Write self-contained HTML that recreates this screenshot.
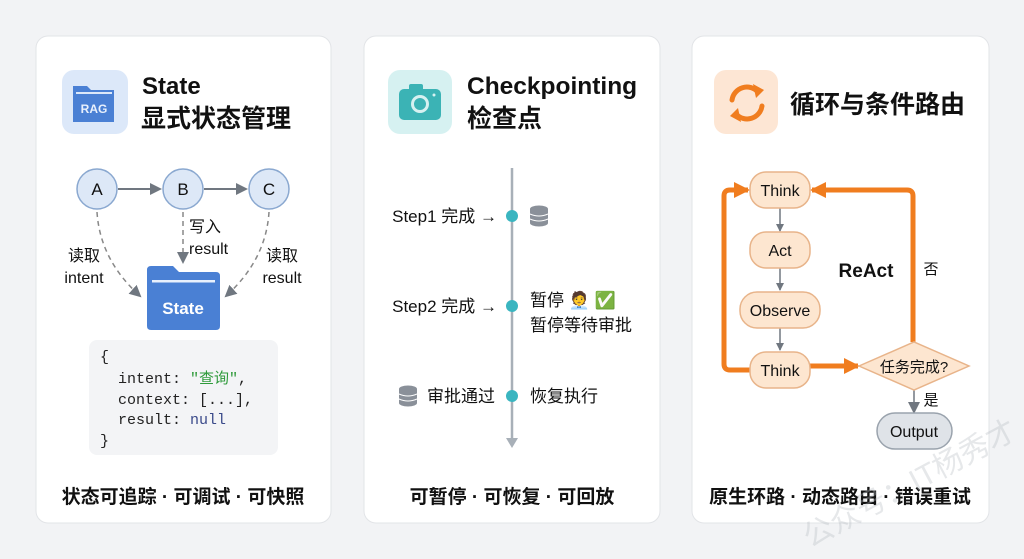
<!DOCTYPE html>
<html><head><meta charset="utf-8"><style>
html,body{margin:0;padding:0;background:#f2f3f5;}
svg{display:block;font-family:"Liberation Sans","Noto Sans CJK SC",sans-serif;}
</style></head><body>
<svg width="1024" height="559" viewBox="0 0 1024 559" xmlns="http://www.w3.org/2000/svg">
<defs>
<marker id="ag" markerWidth="8" markerHeight="8" refX="7" refY="4" orient="auto" markerUnits="userSpaceOnUse"><path d="M0,0 L8,4 L0,8 z" fill="#707780"/></marker>
<marker id="ag2" markerWidth="12" markerHeight="12" refX="10" refY="6" orient="auto" markerUnits="userSpaceOnUse"><path d="M0,0 L12,6 L0,12 z" fill="#707780"/></marker>
<marker id="ao" markerWidth="16" markerHeight="16" refX="14" refY="8" orient="auto" markerUnits="userSpaceOnUse"><path d="M0,0 L16,8 L0,16 z" fill="#f07d1f"/></marker>
</defs>
<rect x="0" y="0" width="1024" height="559" fill="#f2f3f5"/>
<rect x="36" y="36" width="295" height="487" rx="12" fill="#fff" stroke="#e2e4e7"/>
<rect x="364" y="36" width="296" height="487" rx="12" fill="#fff" stroke="#e2e4e7"/>
<rect x="692" y="36" width="297" height="487" rx="12" fill="#fff" stroke="#e2e4e7"/>

<!-- Card 1 -->
<rect x="62" y="70" width="66" height="64" rx="12" fill="#dce8f9"/>
<path d="M73 86 h14 l4 4 h23 v32 h-41 z" fill="#4a80d4"/>
<rect x="76" y="92" width="36" height="2" fill="#dce8f9"/>
<text x="94" y="113" text-anchor="middle" font-size="12" font-weight="bold" fill="#e8f0fc">RAG</text>
<text x="142" y="94" font-size="24" font-weight="bold" fill="#111">State</text>
<text x="141" y="127" font-size="25" font-weight="bold" fill="#111">显式状态管理</text>

<line x1="118" y1="189" x2="160" y2="189" stroke="#707780" stroke-width="2" marker-end="url(#ag2)"/>
<line x1="204" y1="189" x2="246" y2="189" stroke="#707780" stroke-width="2" marker-end="url(#ag2)"/>
<g fill="#dde8f7" stroke="#8aa8d0" stroke-width="1.5">
<circle cx="97" cy="189" r="20"/><circle cx="183" cy="189" r="20"/><circle cx="269" cy="189" r="20"/></g>
<g font-size="17" text-anchor="middle" fill="#111"><text x="97" y="195">A</text><text x="183" y="195">B</text><text x="269" y="195">C</text></g>
<g fill="none" stroke="#888" stroke-width="1.5" stroke-dasharray="5,4">
<path d="M97 212 Q100 260 140 296" marker-end="url(#ag2)"/>
<path d="M183 212 L183 262" marker-end="url(#ag2)"/>
<path d="M269 212 Q266 260 226 296" marker-end="url(#ag2)"/>
</g>
<g font-size="16" fill="#111">
<text x="84" y="261" text-anchor="middle">读取</text><text x="84" y="283" text-anchor="middle">intent</text>
<text x="189" y="232">写入</text><text x="189" y="254">result</text>
<text x="282" y="261" text-anchor="middle">读取</text><text x="282" y="283" text-anchor="middle">result</text>
</g>
<path d="M147 270 q0-4 4-4 h22 l6 6 h37 q4 0 4 4 v50 q0 4-4 4 h-65 q-4 0-4-4 z" fill="#4a80d4"/>
<rect x="152" y="280" width="63" height="2.5" fill="#e8f0fc"/>
<text x="183" y="314" text-anchor="middle" font-size="17" font-weight="bold" fill="#fff">State</text>

<rect x="89" y="340" width="189" height="115" rx="8" fill="#f3f4f6"/>
<g font-family="'Liberation Mono','Noto Sans CJK SC',monospace" font-size="15" fill="#222">
<text x="100" y="361">{</text>
<text x="118" y="383">intent: <tspan fill="#2e9a3a">"查询"</tspan>,</text>
<text x="118" y="404">context: [...],</text>
<text x="118" y="424">result: <tspan fill="#3a4a8a">null</tspan></text>
<text x="100" y="445">}</text>
</g>
<text x="183" y="503" text-anchor="middle" font-size="19" font-weight="bold" fill="#111">状态可追踪 · 可调试 · 可快照</text>

<!-- Card 2 -->
<rect x="388" y="70" width="64" height="64" rx="12" fill="#d6f1f1"/>
<rect x="399" y="89" width="42" height="31" rx="5" fill="#3bb3b5"/>
<rect x="409" y="84" width="14" height="7" rx="2" fill="#3bb3b5"/>
<circle cx="420" cy="104" r="9" fill="#d6f1f1"/><circle cx="420" cy="104" r="6" fill="#3bb3b5"/>
<circle cx="434" cy="95" r="1.5" fill="#d6f1f1"/>
<text x="467" y="94" font-size="24.5" font-weight="bold" fill="#111">Checkpointing</text>
<text x="467" y="127" font-size="25" font-weight="bold" fill="#111">检查点</text>

<line x1="512" y1="168" x2="512" y2="440" stroke="#a8b0b8" stroke-width="2.5"/>
<path d="M506 438 L518 438 L512 448 z" fill="#a8b0b8"/>
<g fill="#3ab5c0"><circle cx="512" cy="216" r="6"/><circle cx="512" cy="306" r="6"/><circle cx="512" cy="396" r="6"/></g>
<g font-size="17" fill="#111">
<text x="497" y="222" text-anchor="end">Step1 完成 →</text>
<text x="497" y="312" text-anchor="end">Step2 完成 →</text>
<text x="495" y="402" text-anchor="end">审批通过</text>
<text x="530" y="306">暂停 🧑‍💼 ✅</text>
<text x="530" y="331">暂停等待审批</text>
<text x="530" y="402">恢复执行</text>
</g>
<g fill="#8a9099">
<ellipse cx="539" cy="209" rx="9" ry="3.5"/><rect x="530" y="209" width="18" height="14"/><ellipse cx="539" cy="223" rx="9" ry="3.5"/>
<ellipse cx="408" cy="389" rx="9" ry="3.5"/><rect x="399" y="389" width="18" height="14"/><ellipse cx="408" cy="403" rx="9" ry="3.5"/>
</g>
<g stroke="#fff" stroke-width="1" fill="none"><path d="M530 214 q9 4 18 0 M530 219 q9 4 18 0 M399 394 q9 4 18 0 M399 399 q9 4 18 0"/></g>
<text x="512" y="503" text-anchor="middle" font-size="19" font-weight="bold" fill="#111">可暂停 · 可恢复 · 可回放</text>

<!-- Card 3 -->
<rect x="714" y="70" width="64" height="64" rx="12" fill="#fde6d4"/>
<g fill="none" stroke="#f07d1f" stroke-width="5" stroke-linecap="round">
<path d="M732 100 a15 15 0 0 1 26 -8"/><path d="M762 106 a15 15 0 0 1 -26 8"/></g>
<path d="M753 84 L764 90 L756 98 z" fill="#f07d1f"/><path d="M741 122 L730 116 L738 108 z" fill="#f07d1f"/>
<text x="790" y="113" font-size="25" font-weight="bold" fill="#111">循环与条件路由</text>

<g fill="none" stroke="#f07d1f" stroke-width="5" stroke-linejoin="round">
<path d="M750 370 H730 Q724 370 724 364 V196 Q724 190 730 190 H748" marker-end="url(#ao)"/>
<path d="M913 342 V196 Q913 190 907 190 H812" marker-end="url(#ao)"/>
<path d="M810 366 H858" marker-end="url(#ao)"/>
</g>
<g stroke="#707780" stroke-width="1.5">
<line x1="780" y1="208" x2="780" y2="231" marker-end="url(#ag)"/>
<line x1="780" y1="268" x2="780" y2="290" marker-end="url(#ag)"/>
<line x1="780" y1="328" x2="780" y2="350" marker-end="url(#ag)"/>
<line x1="914" y1="390" x2="914" y2="412" marker-end="url(#ag2)"/>
</g>
<g fill="#fde6d0" stroke="#e8b48a" stroke-width="1.5">
<rect x="750" y="172" width="60" height="36" rx="16"/>
<rect x="750" y="232" width="60" height="36" rx="16"/>
<rect x="740" y="292" width="80" height="36" rx="17"/>
<rect x="750" y="352" width="60" height="36" rx="16"/>
<path d="M859 366 L914 342 L969 366 L914 390 z"/>
</g>
<rect x="877" y="413" width="75" height="36" rx="18" fill="#dfe3e8" stroke="#9aa3ad" stroke-width="1.5"/>
<g font-size="16" fill="#111" text-anchor="middle">
<text x="780" y="196">Think</text><text x="780" y="256">Act</text><text x="780" y="316">Observe</text><text x="780" y="376">Think</text>
<text x="914" y="372" font-size="15">任务完成?</text>
<text x="914" y="437">Output</text>
</g>
<text x="866" y="277" text-anchor="middle" font-size="19" font-weight="bold" fill="#111">ReAct</text>
<text x="931" y="274" text-anchor="middle" font-size="15" fill="#111">否</text>
<text x="931" y="405" text-anchor="middle" font-size="15" fill="#111">是</text>
<text x="840" y="503" text-anchor="middle" font-size="19" font-weight="bold" fill="#111">原生环路 · 动态路由 · 错误重试</text>
<text x="810" y="548" font-size="30" fill="#b8bcc2" fill-opacity="0.35" transform="rotate(-28 810 548)">公众号：IT杨秀才</text>
</svg>
</body></html>
